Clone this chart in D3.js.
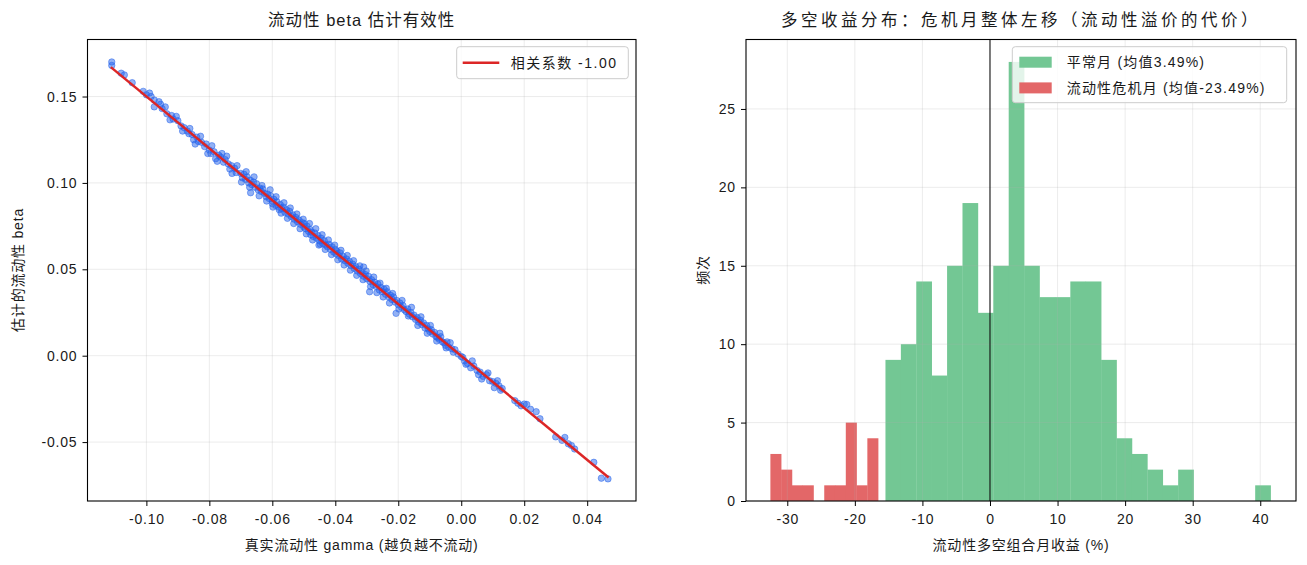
<!DOCTYPE html>
<html>
<head>
<meta charset="utf-8">
<script src="https://cdn.jsdelivr.net/npm/d3@7"></script>
<style>
body { margin: 0; background: #fff; }
text { font-family: "Liberation Sans", "Noto Sans CJK SC", sans-serif; fill: #1a1a1a; }
</style>
</head>
<body>
<div id="content"></div>
<script>
const width = 1307;
const height = 565;

// left panel: true gamma vs estimated beta
const scatterPoints = [
    [-0.1110,0.1700],[-0.1110,0.1680],[-0.1080,0.1635],[-0.1070,0.1625],[-0.1045,0.1580],[-0.1010,0.1530],
    [-0.1000,0.1510],[-0.0990,0.1520],[-0.0985,0.1500],[-0.0975,0.1480],[-0.0960,0.1470],[-0.0950,0.1430],
    [-0.0940,0.1440],[-0.0935,0.1400],[-0.0920,0.1390],[-0.0915,0.1370],
    [-0.0975,0.1440],[-0.0955,0.1455],[-0.0925,0.1365],[-0.0905,0.1385],[-0.0885,0.1300],[-0.0862,0.1315],
    [-0.0845,0.1225],[-0.0828,0.1270],[-0.0805,0.1170],[-0.0792,0.1215],[-0.0775,0.1125],[-0.0760,0.1170],
    [-0.0900,0.1360],[-0.0890,0.1330],[-0.0880,0.1320],[-0.0870,0.1300],[-0.0865,0.1285],[-0.0855,0.1280],
    [-0.0850,0.1250],[-0.0840,0.1265],[-0.0835,0.1240],[-0.0825,0.1235],[-0.0815,0.1210],[-0.0810,0.1225],
    [-0.0800,0.1190],[-0.0795,0.1170],[-0.0785,0.1180],[-0.0780,0.1140],[-0.0770,0.1160],[-0.0765,0.1150],
    [-0.0755,0.1120],[-0.0750,0.1135],[-0.0740,0.1110],[-0.0735,0.1080],[-0.0730,0.1100],[-0.0720,0.1085],
    [-0.0715,0.1060],
    [-0.0745,0.1155],[-0.0728,0.1055],[-0.0712,0.1100],[-0.0698,0.1005],[-0.0683,0.1065],[-0.0672,0.0975],
    [-0.0658,0.1035],[-0.0642,0.0925],[-0.0633,0.0985],[-0.0618,0.0895],[-0.0607,0.0960],[-0.0598,0.0860],
    [-0.0588,0.0920],[-0.0572,0.0825],[-0.0563,0.0885],[-0.0552,0.0795],[-0.0543,0.0855],[-0.0532,0.0765],
    [-0.0522,0.0820],[-0.0512,0.0735],[-0.0502,0.0790],[-0.0492,0.0705],[-0.0482,0.0765],[-0.0472,0.0670],
    [-0.0462,0.0735],[-0.0452,0.0640],[-0.0442,0.0700],[-0.0432,0.0615],[-0.0422,0.0670],[-0.0412,0.0585],
    [-0.0402,0.0640],[-0.0392,0.0555],[-0.0382,0.0610],[-0.0372,0.0525],[-0.0362,0.0580],[-0.0352,0.0495],
    [-0.0342,0.0550],[-0.0332,0.0465],[-0.0322,0.0520],[-0.0312,0.0440],[-0.0302,0.0490],[-0.0288,0.0400],
    [-0.0278,0.0455],[-0.0268,0.0365],[-0.0258,0.0420],[-0.0248,0.0340],[-0.0238,0.0390],[-0.0228,0.0305],
    [-0.0218,0.0360],[-0.0198,0.0270],[-0.0188,0.0320],[-0.0168,0.0230],[-0.0158,0.0280],[-0.0138,0.0175],
    [-0.0128,0.0225],[-0.0108,0.0130],[-0.0098,0.0175],[-0.0078,0.0085],[-0.0068,0.0130],[-0.0048,0.0045],
    [-0.0035,0.0075],[0.0015,-0.0050],[0.0035,-0.0030],[0.0065,-0.0135],[0.0085,-0.0100],[0.0105,-0.0185],
    [0.0115,-0.0145],
    [-0.0700,0.1055],[-0.0695,0.1030],[-0.0690,0.1050],[-0.0685,0.1020],[-0.0680,0.1035],[-0.0675,0.1000],
    [-0.0670,0.1015],[-0.0669,0.0943],[-0.0665,0.0990],[-0.0660,0.1005],[-0.0655,0.0975],[-0.0650,0.0995],
    [-0.0645,0.0960],[-0.0640,0.0970],[-0.0635,0.0950],[-0.0630,0.0965],[-0.0625,0.0940],[-0.0620,0.0920],
    [-0.0615,0.0935],[-0.0610,0.0910],[-0.0605,0.0925],[-0.0600,0.0895],[-0.0600,0.0880],[-0.0595,0.0905],
    [-0.0590,0.0870],[-0.0585,0.0890],[-0.0580,0.0860],[-0.0578,0.0845],[-0.0575,0.0875],[-0.0570,0.0850],
    [-0.0565,0.0860],[-0.0560,0.0830],[-0.0555,0.0845],[-0.0550,0.0820],[-0.0545,0.0835],[-0.0540,0.0805],
    [-0.0535,0.0815],[-0.0530,0.0790],[-0.0525,0.0800],[-0.0520,0.0775],[-0.0515,0.0785],[-0.0510,0.0760],
    [-0.0505,0.0770],
    [-0.0500,0.0745],[-0.0498,0.0765],[-0.0495,0.0735],[-0.0490,0.0750],[-0.0485,0.0720],[-0.0480,0.0730],
    [-0.0478,0.0700],[-0.0475,0.0715],[-0.0470,0.0690],[-0.0465,0.0710],[-0.0460,0.0680],[-0.0455,0.0695],
    [-0.0450,0.0665],[-0.0448,0.0645],[-0.0445,0.0680],[-0.0440,0.0650],[-0.0435,0.0665],[-0.0430,0.0640],
    [-0.0425,0.0630],[-0.0420,0.0645],[-0.0415,0.0615],[-0.0410,0.0630],[-0.0405,0.0600],[-0.0400,0.0615],
    [-0.0398,0.0590],[-0.0395,0.0605],[-0.0390,0.0580],[-0.0385,0.0595],[-0.0380,0.0560],[-0.0375,0.0575],
    [-0.0370,0.0550],[-0.0365,0.0560],[-0.0360,0.0535],[-0.0355,0.0545],[-0.0350,0.0520],[-0.0345,0.0530],
    [-0.0340,0.0505],[-0.0335,0.0515],[-0.0330,0.0490],[-0.0325,0.0500],[-0.0320,0.0475],[-0.0315,0.0485],
    [-0.0310,0.0513],[-0.0310,0.0460],[-0.0305,0.0470],
    [-0.0300,0.0445],[-0.0295,0.0460],[-0.0291,0.0370],[-0.0290,0.0430],[-0.0285,0.0440],[-0.0280,0.0410],
    [-0.0275,0.0425],[-0.0270,0.0400],[-0.0265,0.0415],[-0.0260,0.0380],[-0.0255,0.0395],[-0.0250,0.0370],
    [-0.0245,0.0385],[-0.0240,0.0355],[-0.0235,0.0370],[-0.0230,0.0340],[-0.0225,0.0350],[-0.0220,0.0325],
    [-0.0215,0.0340],[-0.0210,0.0310],[-0.0207,0.0245],[-0.0205,0.0320],[-0.0200,0.0295],[-0.0195,0.0305],
    [-0.0190,0.0280],[-0.0185,0.0290],[-0.0180,0.0265],[-0.0175,0.0255],[-0.0170,0.0270],[-0.0165,0.0240],
    [-0.0160,0.0250],[-0.0155,0.0225],[-0.0150,0.0235],[-0.0145,0.0210],[-0.0140,0.0220],[-0.0135,0.0195],
    [-0.0130,0.0205],[-0.0125,0.0180],[-0.0120,0.0190],[-0.0115,0.0160],[-0.0110,0.0175],[-0.0105,0.0155],
    [-0.0100,0.0140],
    [-0.0095,0.0150],[-0.0090,0.0125],[-0.0085,0.0135],[-0.0080,0.0110],[-0.0075,0.0105],[-0.0070,0.0095],
    [-0.0065,0.0110],[-0.0060,0.0080],[-0.0055,0.0075],[-0.0050,0.0060],[-0.0045,0.0080],[-0.0040,0.0050],
    [-0.0030,0.0040],[-0.0025,0.0020],[-0.0020,0.0035],[-0.0010,0.0010],[0.0000,-0.0005],[0.0005,-0.0010],
    [0.0010,-0.0030],[0.0020,-0.0045],[0.0030,-0.0070],[0.0040,-0.0060],[0.0050,-0.0085],[0.0055,-0.0110],
    [0.0060,-0.0095],[0.0070,-0.0120],[0.0080,-0.0110],[0.0090,-0.0145],[0.0100,-0.0150],[0.0110,-0.0160],
    [0.0120,-0.0175],[0.0125,-0.0200],[0.0130,-0.0190],
    [0.0170,-0.0260],[0.0180,-0.0275],[0.0190,-0.0290],[0.0200,-0.0280],[0.0208,-0.0282],[0.0220,-0.0310],
    [0.0238,-0.0324],[0.0250,-0.0365],[0.0300,-0.0470],[0.0320,-0.0490],[0.0329,-0.0473],[0.0340,-0.0510],
    [0.0350,-0.0520],[0.0360,-0.0540],[0.0421,-0.0617],[0.0445,-0.0709],[0.0466,-0.0713]
];
const fitX = [-0.1113, 0.0468];
const fitY = [0.1670, -0.0705];
const leftXTicks = [-0.10, -0.08, -0.06, -0.04, -0.02, 0.00, 0.02, 0.04];
const leftYTicks = [-0.05, 0.00, 0.05, 0.10, 0.15];

// right panel: monthly long-short returns histogram (%)
const normalEdges = [-15.47,-13.19,-10.91,-8.63,-6.35,-4.07,-1.79,0.49,2.77,5.05,7.33,9.61,11.89,
    14.17,16.45,18.73,21.01,23.29,25.57,27.85,30.13,32.41,34.69,36.97,39.25,41.53];
const normalCounts = [9,10,14,8,15,19,12,15,28,15,13,13,14,14,9,4,3,2,1,2,0,0,0,0,1];
const crisisEdges = [-32.50,-30.91,-29.31,-27.72,-26.12,-24.53,-22.94,-21.34,-19.75,-18.15,-16.56];
const crisisCounts = [3,2,1,1,0,1,1,5,1,4];
const rightXTicks = [-30, -20, -10, 0, 10, 20, 30, 40];
const rightYTicks = [0, 5, 10, 15, 20, 25];

const blue = '#2563eb';
const red = '#dc2626';
const green = 'rgb(115,199,148)';
const crisisRed = 'rgb(227,103,104)';
const gridColor = '#b0b0b0';

const fig = d3.select('#content')
    .append('svg')
    .attr('width', width)
    .attr('height', height);

fig.append('rect')
    .attr('width', width)
    .attr('height', height)
    .attr('fill', '#fff');

const axTop = 39.5, axBottom = 501;

function drawGrid(x, y, xTicks, yTicks) {
    const g = fig.append('g');
    const [x0, x1] = x.range();
    g.append('g').selectAll('line').data(xTicks).join('line')
        .attr('x1', d => x(d)).attr('x2', d => x(d))
        .attr('y1', axTop).attr('y2', axBottom);
    g.append('g').selectAll('line').data(yTicks).join('line')
        .attr('x1', x0).attr('x2', x1)
        .attr('y1', d => y(d)).attr('y2', d => y(d));
    g.selectAll('line')
        .attr('stroke', gridColor)
        .attr('stroke-opacity', 0.3)
        .attr('stroke-width', 0.8);
    return g;
}

function drawFrame(x, y, xTicks, yTicks, fmt) {
    const [x0, x1] = x.range();
    const xAxis = fig.append('g')
        .attr('transform', `translate(0,${axBottom})`)
        .call(d3.axisBottom(x).tickValues(xTicks).tickFormat(fmt).tickSize(5).tickSizeOuter(0));
    const yAxis = fig.append('g')
        .attr('transform', `translate(${x0},0)`)
        .call(d3.axisLeft(y).tickValues(yTicks).tickFormat(fmt).tickSize(5).tickSizeOuter(0));
    [xAxis, yAxis].forEach(a => {
        a.select('.domain').remove();
        a.selectAll('line').attr('stroke', '#000').attr('stroke-width', 1);
        a.selectAll('text').attr('font-size', 14).attr('fill', '#1a1a1a')
            .style('font-family', '"Liberation Sans", "Noto Sans CJK SC", sans-serif')
            .style('letter-spacing', '0.8px');
    });
    xAxis.selectAll('text').attr('dy', '1.05em');
    yAxis.selectAll('text').attr('dx', '-0.15em');
    fig.append('rect')
        .attr('x', x0).attr('y', axTop)
        .attr('width', x1 - x0).attr('height', axBottom - axTop)
        .attr('fill', 'none')
        .attr('stroke', '#000')
        .attr('stroke-width', 1.1);
}

function addText(txt, x, y, size, rotate, spacing) {
    const t = fig.append('text')
        .attr('text-anchor', 'middle')
        .attr('font-size', size)
        .style('letter-spacing', spacing + 'px')
        .text(txt);
    if (rotate) t.attr('transform', `translate(${x},${y}) rotate(-90)`);
    else t.attr('x', x).attr('y', y);
    return t;
}

// ---- left panel ----
const xL = d3.scaleLinear().domain([-0.1187, 0.0555]).range([87.5, 636]);
const yL = d3.scaleLinear().domain([-0.0841, 0.1830]).range([axBottom, axTop]);
const fmtL = d => d.toFixed(2);

fig.append('g').selectAll('circle')
    .data(scatterPoints)
    .join('circle')
    .attr('cx', d => xL(d[0]))
    .attr('cy', d => yL(d[1]))
    .attr('r', 3.2)
    .attr('fill', blue)
    .attr('fill-opacity', 0.5)
    .attr('stroke', blue)
    .attr('stroke-opacity', 0.5)
    .attr('stroke-width', 1);

drawGrid(xL, yL, leftXTicks, leftYTicks);

fig.append('path')
    .datum(fitX.map((v, i) => [v, fitY[i]]))
    .attr('d', d3.line().x(d => xL(d[0])).y(d => yL(d[1])))
    .attr('stroke', red)
    .attr('stroke-width', 2.5)
    .attr('fill', 'none');

drawFrame(xL, yL, leftXTicks, leftYTicks, fmtL);

addText('流动性 beta 估计有效性', 361.7, 26, 16.5, false, 1);
addText('真实流动性 gamma (越负越不流动)', 361.7, 550, 14, false, 0.8);
addText('估计的流动性 beta', 23, 270, 14, true, 0.8);

// legend left
const legL = fig.append('g');
legL.append('rect')
    .attr('x', 456.7).attr('y', 46.7).attr('width', 171.6).attr('height', 32)
    .attr('rx', 3).attr('fill', '#fff').attr('fill-opacity', 0.8)
    .attr('stroke', '#ccc').attr('stroke-width', 1);
legL.append('line')
    .attr('x1', 462.7).attr('x2', 499.3).attr('y1', 62.7).attr('y2', 62.7)
    .attr('stroke', red).attr('stroke-width', 2.5);
legL.append('text')
    .attr('x', 510.7).attr('y', 67.8)
    .attr('font-size', 14).style('letter-spacing', '1.5px')
    .text('相关系数 -1.00');

// ---- right panel ----
const xR = d3.scaleLinear().domain([-36.11, 45.29]).range([746, 1296]);
const yR = d3.scaleLinear().domain([0, 29.43]).range([axBottom, axTop]);
const fmtR = d => String(d);

const normalBins = normalCounts.map((c, i) => ({x0: normalEdges[i], x1: normalEdges[i + 1], n: c}));
const crisisBins = crisisCounts.map((c, i) => ({x0: crisisEdges[i], x1: crisisEdges[i + 1], n: c}));

fig.append('g').selectAll('rect')
    .data(normalBins.filter(d => d.n > 0))
    .join('rect')
    .attr('x', d => xR(d.x0))
    .attr('width', d => xR(d.x1) - xR(d.x0) + 0.3)
    .attr('y', d => yR(d.n))
    .attr('height', d => yR(0) - yR(d.n))
    .attr('fill', green);

fig.append('g').selectAll('rect')
    .data(crisisBins.filter(d => d.n > 0))
    .join('rect')
    .attr('x', d => xR(d.x0))
    .attr('width', d => xR(d.x1) - xR(d.x0) + 0.3)
    .attr('y', d => yR(d.n))
    .attr('height', d => yR(0) - yR(d.n))
    .attr('fill', crisisRed);

drawGrid(xR, yR, rightXTicks, rightYTicks);

fig.append('line')
    .attr('x1', xR(0)).attr('x2', xR(0))
    .attr('y1', axTop).attr('y2', axBottom)
    .attr('stroke', '#000').attr('stroke-width', 1);

drawFrame(xR, yR, rightXTicks, rightYTicks, fmtR);

addText('多空收益分布：危机月整体左移（流动性溢价的代价）', 1021, 26, 16.5, false, 3.5);
addText('流动性多空组合月收益 (%)', 1021, 550, 14, false, 0.8);
addText('频次', 708, 270, 14, true, 0.8);

// legend right
const legR = fig.append('g');
legR.append('rect')
    .attr('x', 1012.3).attr('y', 46.7).attr('width', 274.4).attr('height', 56)
    .attr('rx', 3).attr('fill', '#fff').attr('fill-opacity', 0.8)
    .attr('stroke', '#ccc').attr('stroke-width', 1);
const legItems = [
    {label: '平常月 (均值3.49%)', color: green},
    {label: '流动性危机月 (均值-23.49%)', color: crisisRed}
];
legItems.forEach((d, i) => {
    legR.append('rect')
        .attr('x', 1019.3).attr('y', 56.7 + i * 25.7)
        .attr('width', 32.4).attr('height', 11)
        .attr('fill', d.color);
    legR.append('text')
        .attr('x', 1066.7).attr('y', 67.3 + i * 25.7)
        .attr('font-size', 14).style('letter-spacing', '1.2px')
        .text(d.label);
});
</script>
</body>
</html>
